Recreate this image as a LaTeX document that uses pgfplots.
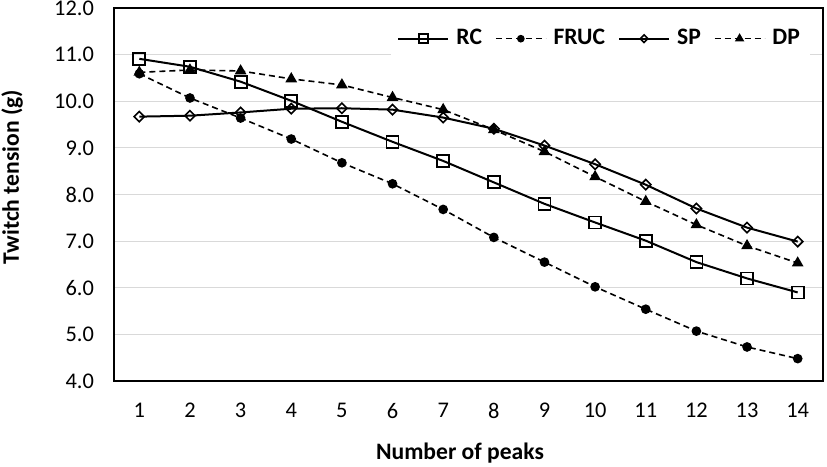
\documentclass[border=0pt]{standalone}
\usepackage{fontspec}
\setmainfont{Carlito}
\usepackage{pgfplots}
\pgfplotsset{compat=1.18}

\begin{document}
\begin{tikzpicture}
\begin{axis}[
scale only axis,
width=354.5pt, height=186.5pt,
xmin=0.5, xmax=14.5,
ymin=4, ymax=12,
xtick={1,...,14},
ytick={4,5,...,12},
tick style={draw=none},
ymajorgrids,
grid style={draw=black!15, line width=0.5pt},
axis line style={line width=0.8pt},
/pgf/number format/assume math mode=true,
yticklabel style={/pgf/number format/fixed, /pgf/number format/fixed zerofill, /pgf/number format/precision=1, xshift=-6.5pt},
xticklabel style={yshift=-7.5pt},
tick label style={font=\fontsize{11.2}{13}\selectfont},
xlabel={Number of peaks},
ylabel={Twitch tension (g)},
every axis x label/.style={at={(rel axis cs:0.488,0)}, anchor=center, yshift=-36pt, font=\fontsize{11.8}{14}\selectfont\bfseries},
every axis y label/.style={at={(rel axis cs:0,0.547)}, xshift=-51pt, anchor=center, rotate=90, font=\fontsize{11.8}{14}\selectfont\bfseries},
legend columns=4,
legend style={at={(rel axis cs:0.982,0.965)}, anchor=north east, draw=none, fill=white,
  font=\fontsize{11.8}{14}\selectfont\bfseries, column sep=1.5pt,
  /tikz/every even column/.append style={column sep=4.5pt}},
legend image code/.code={\draw[mark repeat=2, mark phase=2, #1, every mark/.append style={scale=0.75}] plot coordinates {(0pt,0pt) (12.5pt,0pt) (25pt,0pt)};},
]
\coordinate (sw) at (rel axis cs:0,0);
\coordinate (ne) at (rel axis cs:1,1);

% RC
\addplot[black, line width=1pt, mark=square, mark size=3pt, mark options={solid, fill=white, line width=0.9pt}]
coordinates {(1,10.91) (2,10.74) (3,10.42) (4,10.01) (5,9.56) (6,9.13) (7,8.72)
(8,8.26) (9,7.80) (10,7.40) (11,7.01) (12,6.55) (13,6.20) (14,5.90)};
\addlegendentry{RC}

% FRUC
\addplot[black, line width=0.8pt, dash pattern=on 3pt off 2pt, mark=*, mark size=2pt, mark options={solid}]
coordinates {(1,10.59) (2,10.07) (3,9.64) (4,9.19) (5,8.68) (6,8.23) (7,7.68)
(8,7.08) (9,6.55) (10,6.02) (11,5.54) (12,5.07) (13,4.73) (14,4.48)};
\addlegendentry{FRUC}

% SP
\addplot[black, line width=1pt, mark=square, mark size=1.8pt, mark options={solid, rotate=45, fill=white, line width=0.8pt}]
coordinates {(1,9.67) (2,9.69) (3,9.76) (4,9.84) (5,9.85) (6,9.82) (7,9.65)
(8,9.41) (9,9.05) (10,8.65) (11,8.21) (12,7.70) (13,7.29) (14,6.99)};
\addlegendentry{SP}

% DP
\addplot[black, line width=0.8pt, dash pattern=on 3pt off 2pt, mark=triangle*, mark size=2.6pt, mark options={solid}]
coordinates {(1,10.62) (2,10.67) (3,10.65) (4,10.48) (5,10.35) (6,10.08) (7,9.82)
(8,9.39) (9,8.92) (10,8.38) (11,7.85) (12,7.35) (13,6.90) (14,6.53)};
\addlegendentry{DP}

\end{axis}
\pgfresetboundingbox
\path[use as bounding box] ([xshift=-57pt,yshift=-42.5pt]sw) rectangle ([xshift=2pt,yshift=4pt]ne);
\end{tikzpicture}
\end{document}
